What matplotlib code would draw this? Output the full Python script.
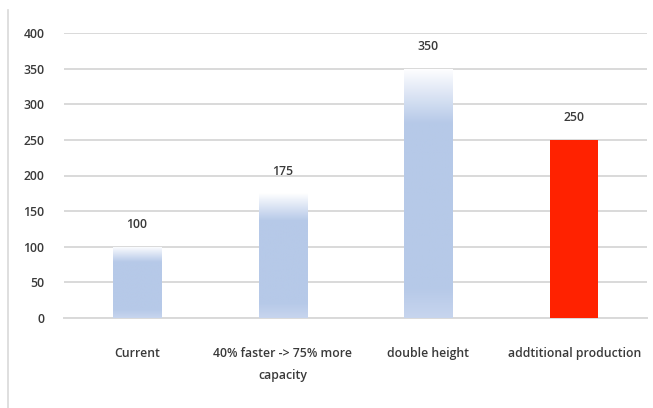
import matplotlib
matplotlib.use("Agg")
import matplotlib.pyplot as plt
import numpy as np
from matplotlib.colors import LinearSegmentedColormap
from matplotlib.lines import Line2D

categories = ["Current", "40% faster -> 75% more\ncapacity", "double height", "addtitional production"]
values = [100, 175, 350, 250]
styles = ["gradient", "gradient", "gradient", "red"]
yticks = [0, 50, 100, 150, 200, 250, 300, 350, 400]

plt.rcParams['font.family'] = ['Open Sans', 'DejaVu Sans']
FS = 8.8
TC = "#3a3a3a"

fig = plt.figure(figsize=(6.53, 4.08), dpi=100)
ax = fig.add_axes([64/653, 90/408, (647-64)/653, (318-33)/408])

x = np.arange(len(categories))
bars = ax.bar(x, values, width=0.33, color="none", edgecolor="none", zorder=3)

cmap = LinearSegmentedColormap.from_list(
    "grad",
    [(0.0, "#c7d5ee"), (0.12, "#b6c9e8"), (0.78, "#b6c9e8"), (0.95, "#eef2fa"), (1.0, "#ffffff")])
grad = np.linspace(0, 1, 256).reshape(-1, 1)

for b, s in zip(bars, styles):
    x0, w, h = b.get_x(), b.get_width(), b.get_height()
    if s == "red":
        b.set_facecolor("#ff2200")
    else:
        im = ax.imshow(grad, cmap=cmap, origin="lower", aspect="auto",
                       extent=[x0, x0 + w, 0, h], zorder=3, interpolation="bilinear")
        im.set_clip_path(b)
    ax.text(x0 + w / 2, h + 22, str(int(h)), ha="center", va="bottom",
            fontsize=FS, color=TC, fontweight="semibold", zorder=4)

ax.set_xlim(-0.5, len(categories) - 0.5)
ax.set_ylim(0, 400)
ax.set_yticks(yticks)
ax.set_xticks(x)
ax.set_xticklabels(categories, fontsize=FS, color=TC, linespacing=1.9, fontweight="semibold")
ax.tick_params(axis="y", labelsize=FS, labelcolor=TC, length=0, pad=14)
for lbl in ax.get_yticklabels():
    lbl.set_fontweight("semibold")
ax.tick_params(axis="x", length=0, pad=21)
ax.yaxis.grid(True, color="#d9d9d9", linewidth=1.4, zorder=0)
ax.set_axisbelow(True)
for side in ["top", "right", "left"]:
    ax.spines[side].set_visible(False)
ax.spines["bottom"].set_color("#d9d9d9")
ax.spines["bottom"].set_linewidth(1.4)

fig.add_artist(Line2D([8/653, 8/653], [0, 1 - 10/408], color="#d9d9d9", linewidth=1.2,
                      transform=fig.transFigure))

fig.savefig("out.png", dpi=100)
